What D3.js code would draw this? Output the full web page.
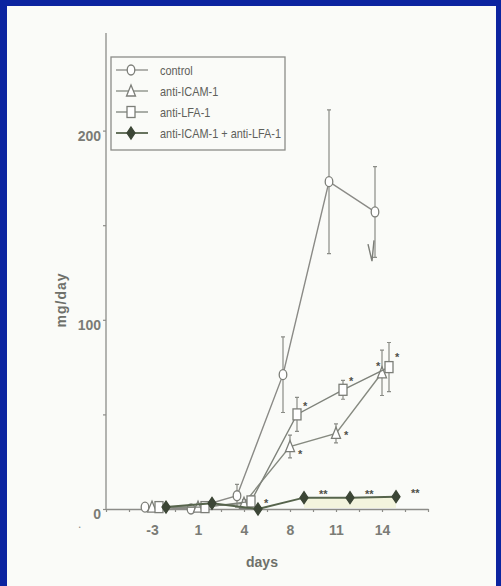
<!DOCTYPE html>
<html>
<head>
<meta charset="utf-8">
<script src="https://cdn.jsdelivr.net/npm/d3@7"></script>
<style>
  body { margin: 0; background: #0c24a0; }
  svg { display: block; }
</style>
</head>
<body>
<svg width="501" height="586"></svg>
<script>
// day labels on the x axis (evenly spaced, like categories)
const days = [-3, 1, 4, 8, 11, 14];
const yTicks = [0, 50, 100, 150, 200];
const yLabelled = [0, 100, 200];

const seriesNames = ['control', 'anti-ICAM-1', 'anti-LFA-1', 'anti-ICAM-1 + anti-LFA-1'];
const controlValues = [1, 0, 7, 71, 173, 157];
const controlErrors = [1, 1, 6, 20, 38, 24];
const icamValues = [1, 1, 3, 33, 40, 72];
const icamErrors = [1, 1, 2, 6, 5, 12];
const lfaValues = [1, 1, 4, 50, 63, 75];
const lfaErrors = [1, 1, 3, 9, 5, 13];
const comboValues = [1, 3, 0, 6, 6, 6.5];
const comboErrors = [0, 0, 0, 1, 1, 1];
// significance marks
const icamStars = ['', '', '', '*', '*', '*'];
const lfaStars = ['', '', '', '*', '*', '*'];
const comboStars = ['', '', '*', '**', '**', '**'];

const series = [
  { name: seriesNames[0], values: controlValues, errors: controlErrors, stars: null,
    shape: 'circle', shift: -7, line: '#8a8a86', fill: '#fff' },
  { name: seriesNames[1], values: icamValues, errors: icamErrors, stars: icamStars,
    shape: 'triangle', shift: 0, line: '#868a80', fill: '#fff',
    starAt: [[0, 0], [0, 0], [0, 0], [8, 4], [8, -2], [-6, -10]] },
  { name: seriesNames[2], values: lfaValues, errors: lfaErrors, stars: lfaStars,
    shape: 'square', shift: 7, line: '#7e827a', fill: '#fff',
    starAt: [[0, 0], [0, 0], [0, 0], [6, -12], [6, -13], [6, -14]] },
  { name: seriesNames[3], values: comboValues, errors: comboErrors, stars: comboStars,
    shape: 'diamond', shift: 14, line: '#56644c', fill: '#3c4636',
    starAt: [[0, 0], [0, 0], [6, -10], [15, -7], [15, -7], [15, -7]] }
];

const svg = d3.select('svg');
const font = '"Liberation Sans", Arial, sans-serif';

// blue frame + off-white page
svg.append('rect').attr('width', 501).attr('height', 586).attr('fill', '#0c24a0');
svg.append('rect').attr('x', 7).attr('y', 6).attr('width', 489).attr('height', 580).attr('fill', '#fafbf8');

const x = d3.scaleLinear().domain([0, 7]).range([106, 428]);
const y = d3.scaleLinear().domain([0, 250]).range([509, 36]);
const px = (i, s) => x(i + 1) + s.shift;

// axes
const xAxis = svg.append('g').attr('transform', 'translate(0,509)')
  .call(d3.axisBottom(x).tickValues(d3.range(0, 7.01, 0.5)).tickSize(3).tickSizeOuter(0).tickPadding(13)
    .tickFormat(v => (Number.isInteger(v) && v >= 1 && v <= 6) ? days[v - 1] : ''));
const yAxis = svg.append('g').attr('transform', 'translate(106,0)')
  .call(d3.axisLeft(y).tickValues(yTicks).tickSize(3).tickSizeOuter(0).tickPadding(2)
    .tickFormat(v => yLabelled.includes(v) ? v : ''));
[xAxis, yAxis].forEach(g => {
  g.select('.domain').attr('stroke', '#8c8c88').attr('stroke-width', 1.3);
  g.selectAll('.tick line').attr('stroke', '#8c8c88').attr('stroke-width', 1.2);
  g.selectAll('.tick text').attr('fill', '#7a7c76').attr('font-family', font)
    .attr('font-size', 14).attr('font-weight', 'bold');
});
yAxis.select('.domain').attr('d', `M0,${y(0)}V33`);
yAxis.selectAll('.tick text').attr('dy', '0.7em');

svg.append('text').attr('x', 78).attr('y', 528).attr('fill', '#8a8c86')
  .attr('font-family', font).attr('font-size', 12).text('.');

svg.append('text').attr('transform', 'translate(66,300) rotate(-90)').attr('text-anchor', 'middle')
  .attr('fill', '#6e706a').attr('font-family', font).attr('font-size', 14).attr('font-weight', 'bold')
  .attr('letter-spacing', 1).text('mg/day');
svg.append('text').attr('x', 262).attr('y', 567).attr('text-anchor', 'middle')
  .attr('fill', '#6e706a').attr('font-family', font).attr('font-size', 14).attr('font-weight', 'bold')
  .text('days');

// faint tint under the combined line
svg.append('path')
  .datum(comboValues.slice(3).map((v, k) => [px(k + 3, series[3]), y(v)]))
  .attr('fill', '#f1f2d6').attr('opacity', 0.8)
  .attr('d', d3.area().x(d => d[0]).y0(y(0) - 1).y1(d => d[1]));

function marker(g, shape, stroke, fill) {
  if (shape === 'circle') {
    g.append('ellipse').attr('rx', 3.8).attr('ry', 5);
  } else if (shape === 'square') {
    g.append('rect').attr('x', -4).attr('y', -5.5).attr('width', 8).attr('height', 11);
  } else if (shape === 'triangle') {
    g.append('path').attr('d', 'M0,-6L4.5,5H-4.5Z');
  } else {
    g.append('path').attr('d', 'M0,-6L4,0L0,6L-4,0Z');
  }
  g.selectAll('*').attr('stroke', stroke).attr('stroke-width', 1.3).attr('fill', fill);
}

// lines, error bars, markers
series.forEach(s => {
  const g = svg.append('g');
  g.append('path')
    .datum(s.values)
    .attr('fill', 'none').attr('stroke', s.line).attr('stroke-width', s.shape === 'diamond' ? 2 : 1.4)
    .attr('d', d3.line().x((d, i) => px(i, s)).y(d => y(d)));

  s.values.forEach((v, i) => {
    const e = s.errors[i];
    if (e > 1) {
      const cx = px(i, s);
      g.append('path')
        .attr('d', `M${cx},${y(v + e)}V${y(v - e)}M${cx - 2},${y(v + e)}H${cx + 2}M${cx - 2},${y(v - e)}H${cx + 2}`)
        .attr('stroke', '#8a8c86').attr('stroke-width', 1.2).attr('fill', 'none');
    }
  });

  s.values.forEach((v, i) => {
    const m = g.append('g').attr('transform', `translate(${px(i, s)},${y(v)})`);
    marker(m, s.shape, s.shape === 'diamond' ? '#3c4636' : '#7c7e78', s.fill);
  });

  if (s.stars) {
    s.stars.forEach((t, i) => {
      if (!t) return;
      g.append('text')
        .attr('x', px(i, s) + s.starAt[i][0]).attr('y', y(s.values[i]) + s.starAt[i][1])
        .attr('dy', '0.7em').attr('fill', '#4e504a')
        .attr('font-family', font).attr('font-size', 11).attr('font-weight', 'bold').text(t);
    });
  }
});

// small stroke below the last control point
const cx14 = px(5, series[0]);
svg.append('path')
  .attr('d', `M${cx14 - 7},${y(140)}L${cx14 - 3},${y(131)}L${cx14 - 1},${y(142)}`)
  .attr('stroke', '#7c7e78').attr('stroke-width', 1.4).attr('fill', 'none');

// legend
const legend = svg.append('g').attr('transform', 'translate(111,57)');
legend.append('rect').attr('width', 174).attr('height', 93)
  .attr('fill', 'none').attr('stroke', '#8c8c88').attr('stroke-width', 1.3);
series.forEach((s, k) => {
  const row = legend.append('g').attr('transform', `translate(0,${13 + k * 21})`);
  row.append('line').attr('x1', 5).attr('x2', 37)
    .attr('stroke', s.line).attr('stroke-width', s.shape === 'diamond' ? 1.8 : 1.3);
  marker(row.append('g').attr('transform', 'translate(20,0)'), s.shape,
    s.shape === 'diamond' ? '#3c4636' : '#7c7e78', s.fill);
  // condensed look of the original legend type
  row.append('text').attr('transform', 'translate(49,0) scale(0.84,1)').attr('dy', '0.35em')
    .attr('fill', '#5e605a').attr('font-family', font).attr('font-size', 13).text(s.name);
});
</script>
</body>
</html>
